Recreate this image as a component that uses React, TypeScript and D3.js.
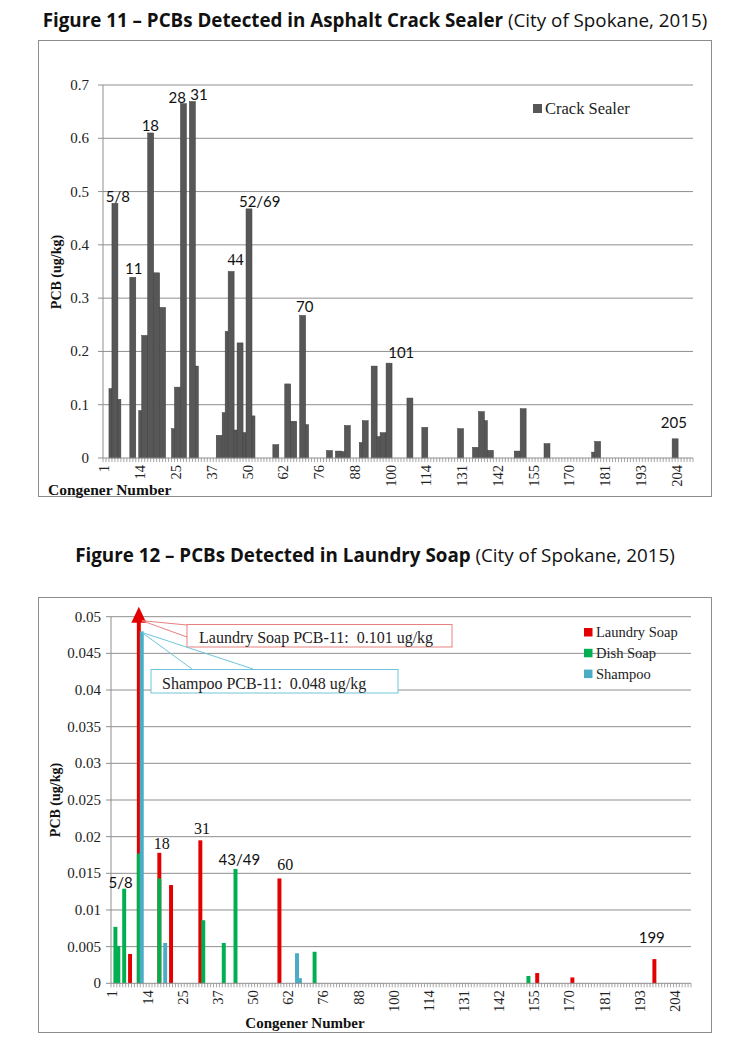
import React from "react";
import * as d3 from "d3";

// ---------- shared category axis ----------
const CATEGORY_COUNT = 198;
const TICK_STEP = 12;
const congenerTickLabels = ["1", "14", "25", "37", "50", "62", "76", "88", "100", "114", "131", "142", "155", "170", "181", "193", "204"];

// ---------- Figure 11 : crack sealer (category index, ug/kg) ----------
const crackSealer: [number, number][] = [
  [2, 0.13], [3, 0.478], [4, 0.478], [5, 0.11], [9, 0.339], [10, 0.339], [12, 0.089], [13, 0.23], [14, 0.23],
  [15, 0.61], [16, 0.61], [17, 0.3475], [18, 0.3475], [19, 0.2825], [20, 0.2825], [23, 0.055], [24, 0.133], [25, 0.133],
  [26, 0.665], [27, 0.665], [29, 0.669], [30, 0.669], [31, 0.1725], [38, 0.0425], [39, 0.0425], [40, 0.085], [41, 0.2375],
  [42, 0.35], [43, 0.35], [44, 0.0525], [45, 0.216], [46, 0.216], [47, 0.0475], [48, 0.4675], [49, 0.4675], [50, 0.079],
  [57, 0.025], [58, 0.025], [61, 0.139], [62, 0.139], [63, 0.069], [64, 0.069], [66, 0.2675], [67, 0.2675], [68, 0.0625],
  [75, 0.014], [76, 0.014], [78, 0.013], [79, 0.013], [80, 0.012], [81, 0.061], [82, 0.061], [86, 0.029], [87, 0.07], [88, 0.07],
  [90, 0.1725], [91, 0.1725], [92, 0.04], [93, 0.0475], [94, 0.0475], [95, 0.178], [96, 0.178], [102, 0.1125], [103, 0.1125],
  [107, 0.0575], [108, 0.0575], [119, 0.055], [120, 0.055], [124, 0.02], [125, 0.02], [126, 0.087], [127, 0.087], [128, 0.07],
  [129, 0.0144], [130, 0.0144], [138, 0.013], [139, 0.013], [140, 0.0925], [141, 0.0925], [148, 0.027], [149, 0.027],
  [164, 0.011], [165, 0.031], [166, 0.031], [191, 0.036], [192, 0.036],
];
const crackLabels: { text: string; i: number; v: number; serif?: boolean }[] = [
  { text: "5/8", i: 5.0, v: 0.481 },
  { text: "11", i: 10.3, v: 0.345 },
  { text: "18", i: 15.9, v: 0.613 },
  { text: "28", i: 24.9, v: 0.667 },
  { text: "31", i: 32.2, v: 0.672 },
  { text: "44", i: 44.5, v: 0.362, serif: true },
  { text: "52/69", i: 52.6, v: 0.471 },
  { text: "70", i: 67.7, v: 0.274 },
  { text: "101", i: 100.1, v: 0.187 },
  { text: "205", i: 191.6, v: 0.056 },
];
const crackTicks = [0, 0.1, 0.2, 0.3, 0.4, 0.5, 0.6, 0.7];

// ---------- Figure 12 : soaps (category index, ug/kg) ----------
const laundrySoap: [number, number][] = [
  [6, 0.004], [9, 0.101], [16, 0.0178], [20, 0.0134], [30, 0.0195], [57, 0.0143], [145, 0.0014], [157, 0.0008], [185, 0.0033],
];
const dishSoap: [number, number][] = [
  [1, 0.0077], [2, 0.0051], [4, 0.0129], [9, 0.0177], [16, 0.0143], [31, 0.0086], [38, 0.0055], [42, 0.0156], [69, 0.0043], [142, 0.001],
];
const shampoo: [number, number][] = [
  [10, 0.048], [18, 0.0055], [63, 0.0041], [64, 0.0007],
];
const soapLabels: { text: string; i: number; v: number; serif?: boolean }[] = [
  { text: "5/8", i: 3.3, v: 0.01295 },
  { text: "18", i: 17.3, v: 0.01827, serif: true },
  { text: "31", i: 31.06, v: 0.02036, serif: true },
  { text: "43/49", i: 43.8, v: 0.0161 },
  { text: "60", i: 59.5, v: 0.01545, serif: true },
  { text: "199", i: 184.6, v: 0.0055 },
];
const soapTicks = [0, 0.005, 0.01, 0.015, 0.02, 0.025, 0.03, 0.035, 0.04, 0.045, 0.05];
const soapTickLabels = ["0", "0.005", "0.01", "0.015", "0.02", "0.025", "0.03", "0.035", "0.04", "0.045", "0.05"];

const SANS = "'Open Sans', 'Noto Sans', sans-serif";
const LABEL_SANS = "Lato, 'Open Sans', sans-serif";
const SERIF = "'Liberation Serif', 'DejaVu Serif', serif";
const GRID = "#8f8f8f";
const RED = "#e30000";
const GREEN = "#00b050";
const BLUE = "#4bacc6";

function runs(data: [number, number][]) {
  const out: { i: number; n: number; v: number }[] = [];
  data.forEach(([i, v]) => {
    const last = out[out.length - 1];
    if (last && last.i + last.n === i && last.v === v) last.n += 1;
    else out.push({ i, n: 1, v });
  });
  return out;
}

function CategoryAxis({ x, y0 }: { x: d3.ScaleLinear<number, number>; y0: number }) {
  const ticks = d3.range(CATEGORY_COUNT + 1);
  return (
    <g>
      <line x1={x(0)} x2={x(CATEGORY_COUNT)} y1={y0} y2={y0} stroke={GRID} />
      {ticks.map((k) => (
        <line key={k} x1={x(k)} x2={x(k)} y1={y0} y2={y0 + 4} stroke={GRID} strokeWidth={0.8} />
      ))}
      {congenerTickLabels.map((t, j) => {
        const cx = x(j * TICK_STEP + 0.5);
        return (
          <text key={t} transform={`translate(${cx + 5},${y0 + 7}) rotate(-90)`} textAnchor="end"
            fontFamily={SERIF} fontSize={14.5} fill="#222">{t}</text>
        );
      })}
    </g>
  );
}

export default function App() {
  // ----- top chart -----
  const x1 = d3.scaleLinear().domain([0, CATEGORY_COUNT]).range([103, 693]);
  const y1 = d3.scaleLinear().domain([0, 0.7]).range([458, 85]);
  // ----- bottom chart -----
  const x2 = d3.scaleLinear().domain([0, CATEGORY_COUNT]).range([111, 691]);
  const y2 = d3.scaleLinear().domain([0, 0.05]).range([983.3, 616.7]).clamp(true);
  const bw2 = (x2(1) - x2(0)) * 1.35;

  const arrowX = x2(9.5);
  const topY = y2(0.05);
  const shampooTop = y2(0.048);

  return (
    <svg width={750} height={1056} style={{ position: "absolute", left: 0, top: 0, background: "#fff" }}>
      <rect width={750} height={1056} fill="#fff" />
      {/* ================= Figure 11 ================= */}
      <text x={375} y={27} textAnchor="middle" fontFamily={SANS} fontSize={18.8} fill="#111">
        <tspan fontWeight="bold">Figure 11 – PCBs Detected in Asphalt Crack Sealer</tspan>
        <tspan> (City of Spokane, 2015)</tspan>
      </text>
      <rect x={38.5} y={40.5} width={673} height={456} fill="#fff" stroke="#8c8c8c" />
      {crackTicks.map((t) => (
        <g key={t}>
          {t > 0 && <line x1={x1(0)} x2={x1(CATEGORY_COUNT)} y1={y1(t)} y2={y1(t)} stroke={GRID} />}
          <line x1={x1(0) - 5} x2={x1(0)} y1={y1(t)} y2={y1(t)} stroke={GRID} />
          <text x={x1(0) - 14} y={y1(t) + 5} textAnchor="end" fontFamily={SERIF} fontSize={15} fill="#222">{String(t)}</text>
        </g>
      ))}
      <line x1={x1(0)} x2={x1(0)} y1={y1(0.7)} y2={y1(0)} stroke={GRID} />
      {runs(crackSealer).map((r) => (
        <rect key={r.i} x={x1(r.i)} y={y1(r.v)} width={x1(r.i + r.n) - x1(r.i)} height={y1(0) - y1(r.v)}
          fill="#575757" stroke="#3d3d3d" strokeWidth={0.5} />
      ))}
      <CategoryAxis x={x1} y0={y1(0)} />
      {crackLabels.map((l) => (
        <text key={l.text} x={x1(l.i)} y={y1(l.v)} textAnchor="middle" fontFamily={l.serif ? SERIF : LABEL_SANS}
          fontSize={l.serif ? 16 : 15} fill="#111">{l.text}</text>
      ))}
      <text transform={`translate(61,272) rotate(-90)`} textAnchor="middle" fontFamily={SERIF} fontWeight="bold" fontSize={14} fill="#111">PCB (ug/kg)</text>
      <text x={48} y={495} fontFamily={SERIF} fontWeight="bold" fontSize={15.5} fill="#111">Congener Number</text>
      <rect x={533} y={104} width={9} height={9} fill="#575757" />
      <text x={545} y={114} fontFamily={SERIF} fontSize={16.5} fill="#222">Crack Sealer</text>

      {/* ================= Figure 12 ================= */}
      <text x={375} y={562} textAnchor="middle" fontFamily={SANS} fontSize={18.8} fill="#111">
        <tspan fontWeight="bold">Figure 12 – PCBs Detected in Laundry Soap</tspan>
        <tspan> (City of Spokane, 2015)</tspan>
      </text>
      <rect x={38.5} y={597.5} width={673} height={435} fill="#fff" stroke="#8c8c8c" />
      {soapTicks.map((t, j) => (
        <g key={t}>
          {t > 0 && <line x1={x2(0)} x2={x2(CATEGORY_COUNT)} y1={y2(t)} y2={y2(t)} stroke={GRID} />}
          <line x1={x2(0) - 5} x2={x2(0)} y1={y2(t)} y2={y2(t)} stroke={GRID} />
          <text x={x2(0) - 10} y={y2(t) + 5} textAnchor="end" fontFamily={SERIF} fontSize={15} fill="#222">{soapTickLabels[j]}</text>
        </g>
      ))}
      <line x1={x2(0)} x2={x2(0)} y1={y2(0.05)} y2={y2(0)} stroke={GRID} />
      {[
        { data: laundrySoap, color: RED },
        { data: dishSoap, color: GREEN },
        { data: shampoo, color: BLUE },
      ].map((s) =>
        s.data.map(([i, v]) => (
          <rect key={s.color + i} x={x2(i + 0.5) - bw2 / 2} y={y2(v)} width={bw2} height={y2(0) - y2(v)} fill={s.color} />
        ))
      )}
      <CategoryAxis x={x2} y0={y2(0)} />
      {/* arrow for off-scale laundry soap PCB-11 */}
      <polygon points={`${arrowX},${topY - 10} ${arrowX - 7.5},${topY + 6} ${arrowX + 7.5},${topY + 6}`} fill={RED} />
      {/* laundry soap callout */}
      <line x1={arrowX + 3} y1={topY + 4} x2={187} y2={625} stroke="#e88080" />
      <line x1={arrowX + 3} y1={topY + 4} x2={187} y2={637} stroke="#e88080" />
      <rect x={187} y={624.5} width={265} height={22.5} fill="#fff" stroke="#e88080" />
      <text x={199} y={643} fontFamily={SERIF} fontSize={16} fill="#222" xmlSpace="preserve">Laundry Soap PCB-11:  0.101 ug/kg</text>
      {/* shampoo callout */}
      <line x1={arrowX + 3} y1={shampooTop + 1} x2={192} y2={669} stroke="#6fc6dc" />
      <line x1={arrowX + 3} y1={shampooTop + 1} x2={253} y2={669} stroke="#6fc6dc" />
      <rect x={151} y={669.5} width={247} height={23.5} fill="#fff" stroke="#6fc6dc" />
      <text x={162} y={689} fontFamily={SERIF} fontSize={16} fill="#222" xmlSpace="preserve">Shampoo PCB-11:  0.048 ug/kg</text>
      {soapLabels.map((l) => (
        <text key={l.text} x={x2(l.i)} y={y2(l.v)} textAnchor="middle" fontFamily={l.serif ? SERIF : LABEL_SANS}
          fontSize={l.serif ? 16 : 15} fill="#111">{l.text}</text>
      ))}
      <text transform={`translate(60,800) rotate(-90)`} textAnchor="middle" fontFamily={SERIF} fontWeight="bold" fontSize={14} fill="#111">PCB (ug/kg)</text>
      <text x={305} y={1028} textAnchor="middle" fontFamily={SERIF} fontWeight="bold" fontSize={15} fill="#111">Congener Number</text>
      {[
        { name: "Laundry Soap", color: RED },
        { name: "Dish Soap", color: GREEN },
        { name: "Shampoo", color: BLUE },
      ].map((s, j) => (
        <g key={s.name}>
          <rect x={584} y={628 + j * 20.8} width={8.5} height={8.5} fill={s.color} />
          <text x={596} y={637 + j * 20.8} fontFamily={SERIF} fontSize={14.5} fill="#222">{s.name}</text>
        </g>
      ))}
    </svg>
  );
}
